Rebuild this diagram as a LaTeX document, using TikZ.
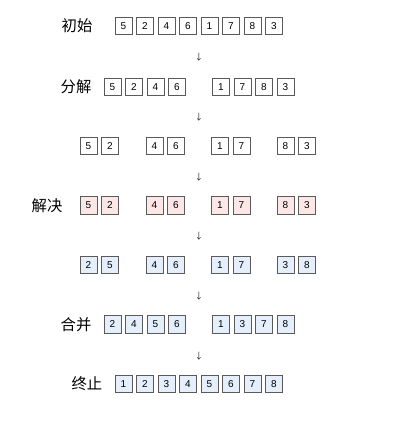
\documentclass[tikz,border=0pt]{standalone}
\usepackage{fontspec}
\setmainfont{Liberation Sans}
\newfontfamily\cjk{Noto Sans CJK SC}
\definecolor{boxline}{HTML}{5A5A5A}
\definecolor{pinkfill}{HTML}{FCE6E6}
\definecolor{bluefill}{HTML}{E4EFFB}
\begin{document}
\begin{tikzpicture}[x=0.75pt,y=-0.75pt,
  cell/.style={draw=boxline,line width=0.6pt,minimum width=12.8pt,minimum height=13pt,inner sep=0pt,font=\fontsize{7.5}{8}\selectfont,fill=white},
  pinkcell/.style={cell,fill=pinkfill},
  bluecell/.style={cell,fill=bluefill},
  steplabel/.style={font=\cjk\fontsize{11.5}{12}\selectfont,inner sep=0pt},
  downarrow/.style={font=\cjk\fontsize{6.5}{7}\selectfont,inner sep=0pt,text=black!85}]
\useasboundingbox (0,0) rectangle (400,444);
% row 1
\node[steplabel] (l1) at (77,26) {初始};
\foreach \v [count=\i] in {5,2,4,6,1,7,8,3}
  \node[cell] (a\i) at ({123.5+21.5*(\i-1)},26) {\v};
% row 2
\node[steplabel] (l2) at (76,87) {分解};
\foreach \v [count=\i] in {5,2,4,6}
  \node[cell] (b\i) at ({112.5+21.5*(\i-1)},87) {\v};
\foreach \v [count=\i] in {1,7,8,3}
  \node[cell] (bb\i) at ({221+21.5*(\i-1)},87) {\v};
% row 3
\foreach \x/\v/\n in {88.5/5/1,110/2/2,154.5/4/3,176/6/4,220/1/5,241.5/7/6,285.5/8/7,307/3/8}
  \node[cell] (c\n) at (\x,146) {\v};
% row 4
\node[steplabel] (l4) at (47,206) {解决};
\foreach \x/\v/\n in {88.5/5/1,110/2/2,154.5/4/3,176/6/4,220/1/5,241.5/7/6,285.5/8/7,307/3/8}
  \node[pinkcell] (d\n) at (\x,205.5) {\v};
% row 5
\foreach \x/\v/\n in {88.5/2/1,110/5/2,154.5/4/3,176/6/4,220/1/5,241.5/7/6,285.5/3/7,307/8/8}
  \node[bluecell] (e\n) at (\x,265) {\v};
% row 6
\node[steplabel] (l6) at (76,325) {合并};
\foreach \v [count=\i] in {2,4,5,6}
  \node[bluecell] (f\i) at ({112.5+21.5*(\i-1)},324.5) {\v};
\foreach \v [count=\i] in {1,3,7,8}
  \node[bluecell] (ff\i) at ({221+21.5*(\i-1)},324.5) {\v};
% row 7
\node[steplabel] (l7) at (87,384) {终止};
\foreach \v [count=\i] in {1,2,3,4,5,6,7,8}
  \node[bluecell] (g\i) at ({123.5+21.5*(\i-1)},384) {\v};
% arrows
\foreach \y [count=\k] in {57.5,117,177,236.5,296.5,356}
  \node[downarrow] (arr\k) at (199,\y) {↓};
\end{tikzpicture}
\end{document}
